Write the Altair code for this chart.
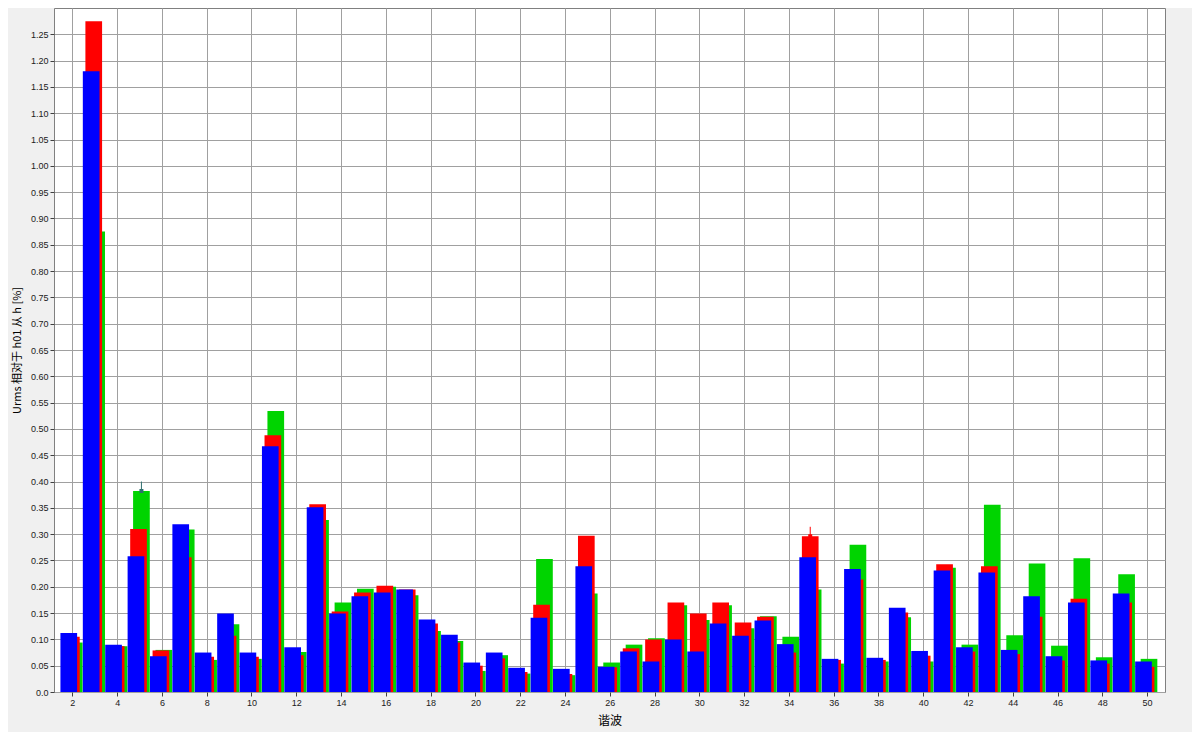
import altair as alt
import pandas as pd

harmonics = list(range(2, 51))

blue = [0.112, 1.180, 0.090, 0.258, 0.068, 0.319, 0.075, 0.149, 0.075, 0.467,
        0.085, 0.351, 0.149, 0.182, 0.189, 0.195, 0.138, 0.109, 0.056, 0.075,
        0.046, 0.141, 0.044, 0.239, 0.048, 0.077, 0.058, 0.100, 0.077, 0.130,
        0.107, 0.136, 0.091, 0.256, 0.063, 0.234, 0.065, 0.160, 0.078, 0.231,
        0.085, 0.227, 0.080, 0.182, 0.068, 0.170, 0.060, 0.187, 0.058]
red = [0.105, 1.275, 0.087, 0.310, 0.079, 0.256, 0.067, 0.107, 0.067, 0.488,
       0.070, 0.357, 0.153, 0.189, 0.202, 0.195, 0.130, 0.094, 0.050, 0.064,
       0.038, 0.166, 0.034, 0.297, 0.047, 0.083, 0.100, 0.170, 0.149, 0.170,
       0.132, 0.143, 0.075, 0.296, 0.061, 0.214, 0.061, 0.151, 0.069, 0.243,
       0.077, 0.239, 0.072, 0.143, 0.060, 0.177, 0.054, 0.170, 0.048]
green = [0.094, 0.875, 0.087, 0.382, 0.080, 0.309, 0.061, 0.129, 0.063, 0.534,
         0.076, 0.327, 0.170, 0.196, 0.200, 0.184, 0.116, 0.097, 0.040, 0.070,
         0.035, 0.253, 0.032, 0.187, 0.056, 0.090, 0.102, 0.165, 0.137, 0.165,
         0.121, 0.144, 0.105, 0.195, 0.054, 0.280, 0.058, 0.142, 0.058, 0.236,
         0.090, 0.356, 0.108, 0.244, 0.088, 0.254, 0.066, 0.224, 0.063]

# cursor / maximum markers
marker_h = [5, 35]
marker_series = ["green", "red"]
marker_low = [0.382, 0.296]
marker_high = [0.400, 0.314]

series_names = ["green", "red", "blue"]
series_colors = {"green": "#00d400", "red": "#ff0000", "blue": "#0000ff"}
series_offsets = {"green": 0.085, "red": -0.045, "blue": -0.16}
half_width = 0.3725

rows = []
for name, vals in zip(series_names, [green, red, blue]):
    for h, v in zip(harmonics, vals):
        rows.append({"h": h, "series": name, "value": v})
df = pd.DataFrame(rows)

mk = pd.DataFrame({"h": marker_h, "series": marker_series,
                   "low": marker_low, "high": marker_high})

offset_expr = ("(datum.series == 'green' ? %f : (datum.series == 'red' ? %f : %f))"
               % (series_offsets["green"], series_offsets["red"], series_offsets["blue"]))

xscale = alt.Scale(domain=[1.18, 50.8], nice=False, zero=False)
yscale = alt.Scale(domain=[0, 1.30], nice=False)

xaxis = alt.Axis(values=list(range(2, 51, 2)), title="谐波", format="d",
                 grid=True, gridColor="#a0a0a0", gridWidth=1,
                 domain=False, tickColor="#404040", tickSize=4,
                 labelFontSize=9, labelColor="#202020", labelPadding=2,
                 titleFontSize=12, titleFontWeight="normal", titleColor="#000000",
                 titlePadding=8, labelFont="Liberation Sans", titleFont="Noto Sans CJK SC")
yaxis = alt.Axis(values=[round(i * 0.05, 2) for i in range(0, 26)],
                 title="Urms 相对于 h01 从 h [%]",
                 labelExpr="datum.value == 0 ? '0.0' : format(datum.value, '.2f')",
                 grid=True, gridColor="#a0a0a0", gridWidth=1,
                 domain=False, tickColor="#404040", tickSize=4,
                 labelFontSize=9, labelColor="#202020", labelPadding=2,
                 titleFontSize=11, titleFontWeight="normal", titleColor="#000000",
                 titlePadding=8, labelFont="Liberation Sans", titleFont="Noto Sans CJK SC")

base = alt.Chart(df).transform_calculate(
    off=offset_expr
).transform_calculate(
    x0="datum.h + datum.off - %f" % half_width,
    x1="datum.h + datum.off + %f" % half_width,
)

layers = []
for name in series_names:
    layers.append(
        base.transform_filter(alt.datum.series == name)
        .mark_bar(color=series_colors[name], strokeWidth=0)
        .encode(x=alt.X("x0:Q", scale=xscale, axis=xaxis),
                x2="x1:Q",
                y=alt.Y("value:Q", scale=yscale, axis=yaxis),
                y2=alt.datum(0))
    )

mbase = alt.Chart(mk).transform_calculate(
    xc="datum.h + " + offset_expr
)
marker_rule = mbase.mark_rule(strokeWidth=1).encode(
    x=alt.X("xc:Q", scale=xscale, axis=xaxis),
    y=alt.Y("low:Q", scale=yscale, axis=yaxis),
    y2="high:Q",
    color=alt.Color("series:N", scale=alt.Scale(domain=["green", "red"],
                                                  range=["#2f6f6f", "#ff0000"]),
                    legend=None),
)
marker_pt = mbase.mark_square(size=16, opacity=1).encode(
    x=alt.X("xc:Q", scale=xscale, axis=xaxis),
    y=alt.Y("low:Q", scale=yscale, axis=yaxis),
    color=alt.Color("series:N", scale=alt.Scale(domain=["green", "red"],
                                                  range=["#2f6f6f", "#ff0000"]),
                    legend=None),
)

chart = alt.layer(*layers, marker_rule, marker_pt).properties(
    width=1111, height=684,
    autosize=alt.AutoSizeParams(type="none"),
    padding={"left": 46, "top": 0, "right": 27, "bottom": 40},
    background="#f0f0f0",
).configure_view(
    fill="white", stroke="#808080", strokeWidth=1
)

chart.save("out.html", embed_options={"renderer": "svg", "actions": False})
